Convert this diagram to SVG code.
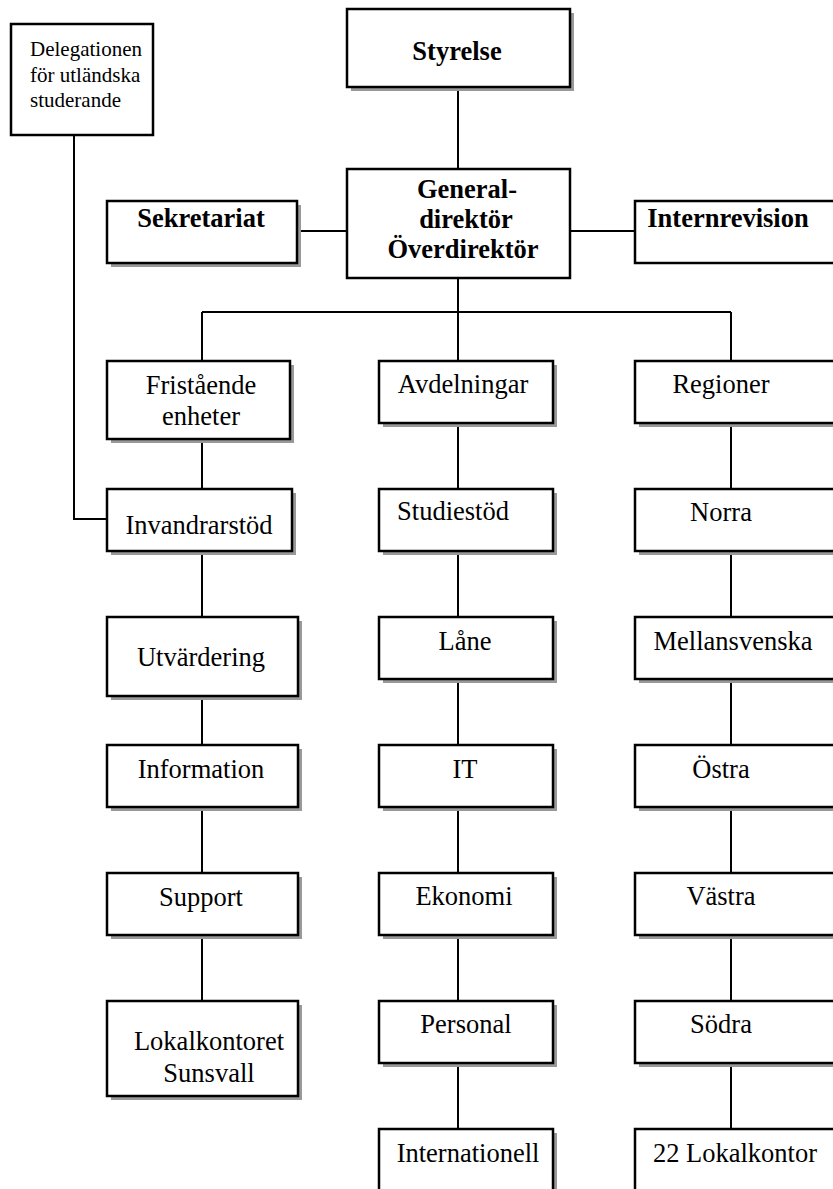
<svg xmlns="http://www.w3.org/2000/svg" width="833" height="1189" viewBox="0 0 833 1189">
<style>
.bx{fill:#fff;stroke:#000;stroke-width:2.5}
.sh{fill:#999}
.ln{stroke:#000;stroke-width:2;fill:none}
.t{font-family:"Liberation Serif","Times New Roman",serif;font-size:26.5px;fill:#000;text-anchor:middle}
.b{font-weight:bold}
.s{font-family:"Liberation Serif","Times New Roman",serif;font-size:21px;fill:#000}
</style>
<rect width="833" height="1189" fill="#fff"/>
<g id="connectors">
<path class="ln" d="M458 87V169M297 231H347M570 231H635M458 278V361M202 312H731M202 312V361M731 312V361"/>
<path class="ln" d="M74 135V519H107"/>
<path class="ln" d="M202 439V489M202 551V617M202 696V745M202 807V873M202 935V1001"/>
<path class="ln" d="M458 423V489M458 551V617M458 679V745M458 807V873M458 935V1001M458 1063V1129"/>
<path class="ln" d="M731 423V489M731 551V617M731 679V745M731 807V873M731 935V1001M731 1063V1129"/>
</g>
<g id="delegation"><rect class="bx" x="11" y="24" width="142" height="111"/>
<text class="s" x="30" y="56">Delegationen</text><text class="s" x="30" y="82">för utländska</text><text class="s" x="30" y="107">studerande</text></g>
<g id="styrelse"><rect class="sh" x="351" y="13" width="223" height="78"/><rect class="bx" x="347" y="9" width="223" height="78"/>
<text class="t b" x="457" y="60">Styrelse</text></g>
<g id="sekretariat"><rect class="sh" x="111" y="205" width="190" height="62"/><rect class="bx" x="107" y="201" width="190" height="62"/>
<text class="t b" x="201" y="227">Sekretariat</text></g>
<g id="gd"><rect class="bx" x="347" y="169" width="223" height="109"/>
<text class="t b" x="467" y="198">General-</text><text class="t b" x="466" y="228">direktör</text><text class="t b" x="463" y="258">Överdirektör</text></g>
<g id="internrevision"><rect class="bx" x="635" y="201" width="220" height="62"/>
<text class="t b" x="728" y="227">Internrevision</text></g>

<g id="fristaende"><rect class="sh" x="111" y="365" width="183" height="78"/><rect class="bx" x="107" y="361" width="183" height="78"/>
<text class="t" x="201" y="394">Fristående</text><text class="t" x="201" y="425">enheter</text></g>
<g id="invandrarstod"><rect class="sh" x="111" y="493" width="185" height="62"/><rect class="bx" x="107" y="489" width="185" height="62"/>
<text class="t" x="199" y="534">Invandrarstöd</text></g>
<g id="utvardering"><rect class="sh" x="111" y="621" width="191" height="79"/><rect class="bx" x="107" y="617" width="191" height="79"/>
<text class="t" x="201" y="666">Utvärdering</text></g>
<g id="information"><rect class="sh" x="111" y="749" width="191" height="62"/><rect class="bx" x="107" y="745" width="191" height="62"/>
<text class="t" x="201" y="778">Information</text></g>
<g id="support"><rect class="sh" x="111" y="877" width="191" height="62"/><rect class="bx" x="107" y="873" width="191" height="62"/>
<text class="t" x="201" y="906">Support</text></g>
<g id="lokalkontoret"><rect class="sh" x="111" y="1005" width="191" height="95"/><rect class="bx" x="107" y="1001" width="191" height="95"/>
<text class="t" x="209" y="1050">Lokalkontoret</text><text class="t" x="209" y="1082">Sunsvall</text></g>

<g id="avdelningar"><rect class="sh" x="383" y="365" width="174" height="62"/><rect class="bx" x="379" y="361" width="174" height="62"/>
<text class="t" x="463" y="393">Avdelningar</text></g>
<g id="studiestod"><rect class="sh" x="383" y="493" width="174" height="62"/><rect class="bx" x="379" y="489" width="174" height="62"/>
<text class="t" x="453" y="520">Studiestöd</text></g>
<g id="lane"><rect class="sh" x="383" y="621" width="174" height="62"/><rect class="bx" x="379" y="617" width="174" height="62"/>
<text class="t" x="465" y="650">Låne</text></g>
<g id="it"><rect class="sh" x="383" y="749" width="174" height="62"/><rect class="bx" x="379" y="745" width="174" height="62"/>
<text class="t" x="465" y="778">IT</text></g>
<g id="ekonomi"><rect class="sh" x="383" y="877" width="174" height="62"/><rect class="bx" x="379" y="873" width="174" height="62"/>
<text class="t" x="464" y="905">Ekonomi</text></g>
<g id="personal"><rect class="sh" x="383" y="1005" width="174" height="62"/><rect class="bx" x="379" y="1001" width="174" height="62"/>
<text class="t" x="466" y="1033">Personal</text></g>
<g id="internationell"><rect class="sh" x="383" y="1133" width="174" height="80"/><rect class="bx" x="379" y="1129" width="174" height="80"/>
<text class="t" x="468" y="1162">Internationell</text></g>

<g id="regioner"><rect class="sh" x="639" y="365" width="220" height="62"/><rect class="bx" x="635" y="361" width="220" height="62"/>
<text class="t" x="721" y="393">Regioner</text></g>
<g id="norra"><rect class="sh" x="639" y="493" width="220" height="62"/><rect class="bx" x="635" y="489" width="220" height="62"/>
<text class="t" x="721" y="521">Norra</text></g>
<g id="mellansvenska"><rect class="sh" x="639" y="621" width="220" height="62"/><rect class="bx" x="635" y="617" width="220" height="62"/>
<text class="t" x="733" y="650">Mellansvenska</text></g>
<g id="ostra"><rect class="sh" x="639" y="749" width="220" height="62"/><rect class="bx" x="635" y="745" width="220" height="62"/>
<text class="t" x="721" y="778">Östra</text></g>
<g id="vastra"><rect class="sh" x="639" y="877" width="220" height="62"/><rect class="bx" x="635" y="873" width="220" height="62"/>
<text class="t" x="721" y="905">Västra</text></g>
<g id="sodra"><rect class="sh" x="639" y="1005" width="220" height="62"/><rect class="bx" x="635" y="1001" width="220" height="62"/>
<text class="t" x="721" y="1033">Södra</text></g>
<g id="lokalkontor22"><rect class="sh" x="639" y="1133" width="220" height="80"/><rect class="bx" x="635" y="1129" width="220" height="80"/>
<text class="t" x="735" y="1162">22 Lokalkontor</text></g>
</svg>
